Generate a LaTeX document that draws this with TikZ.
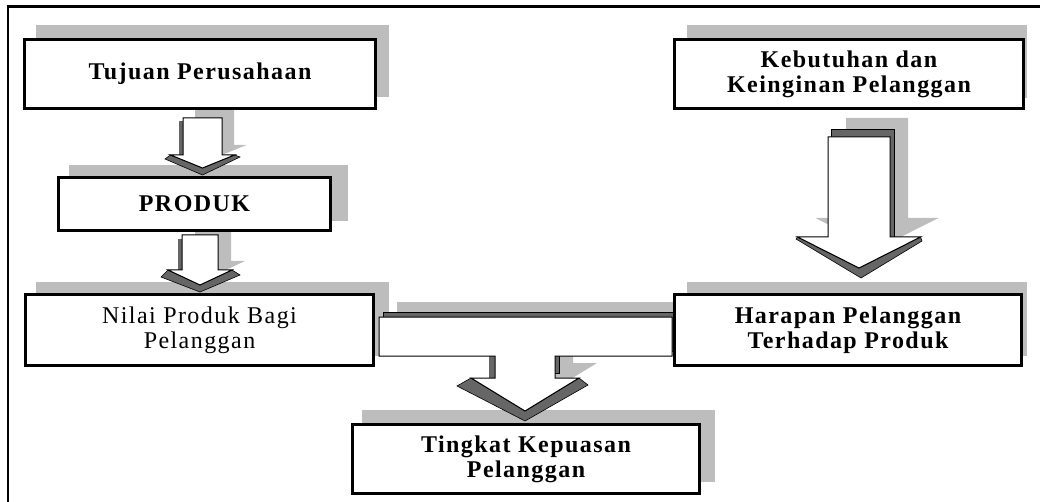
\documentclass[tikz,border=0pt]{standalone}
\usepackage{fontspec}
\setmainfont{Liberation Serif}[LetterSpace=6]
\definecolor{shd}{gray}{0.74}
\definecolor{drk}{gray}{0.40}
\newcommand{\dnarrow}[6]{({#1-#3},#2) -- ({#1+#3},#2) -- ({#1+#3},#5) -- ({#1+#4},#5) -- (#1,#6) -- ({#1-#4},#5) -- ({#1-#3},#5) -- cycle}
\begin{document}
\begin{tikzpicture}[x=1pt,y=-1pt,
  box/.style={draw,line width=2.8pt,fill=white,inner sep=0pt,align=center,font=\fontsize{24}{25}\selectfont\bfseries},
  plain/.style={font=\fontsize{24}{25}\selectfont},
  shadow/.style={fill=shd},
  face/.style={fill=white,draw=black,line width=1pt},
  band/.style={fill=drk,draw=black,line width=0.6pt},
  frame/.style={draw=black}]
\useasboundingbox (0,0) rectangle (1040,502);
% frame
\draw[frame,line width=3pt] (6.5,7) -- (1040,7);
\draw[frame,line width=2pt] (8,7) -- (8,502);
% box shadows
\fill[shadow] (36,25) rectangle (389,97);
\fill[shadow] (69,165) rectangle (348,221);
\fill[shadow] (36,282) rectangle (389,356);
\fill[shadow] (687,25) rectangle (1027,98);
\fill[shadow] (687,282) rectangle (1027,356);
\fill[shadow] (362,410) rectangle (715,482);
% arrow 1: Tujuan -> PRODUK
\fill[shadow,shift={(12,-10)}] \dnarrow{202.5}{118}{19.5}{32}{155}{168};
\fill[drk] (179,121) rectangle (203,155);
\draw[band] (170.5,155) -- (202.5,168) -- (234.5,155) -- (240,157) -- (202.5,175) -- (165,159) -- cycle;
\draw[face] \dnarrow{202.5}{118}{19.5}{32}{155}{168};
% arrow 2: PRODUK -> Nilai
\fill[shadow,shift={(13,-9)}] \dnarrow{200}{235}{18}{32}{270}{285};
\fill[drk] (178,239) rectangle (200,270);
\draw[band] (168,270) -- (200,285) -- (232,270) -- (240,275) -- (200,292) -- (161,277) -- cycle;
\draw[face] \dnarrow{200}{235}{18}{32}{270}{285};
% arrow 3: Kebutuhan -> Harapan
\fill[shadow,shift={(18,-19)}] \dnarrow{859}{137}{31}{61.5}{237}{268};
\draw[band] (831,129) rectangle (894,237);
\draw[band] (797.5,237) -- (859,268) -- (920.5,237) -- (922,241) -- (861,278) -- (796,239) -- cycle;
\draw[face] \dnarrow{859}{137}{31}{61.5}{237}{268};
% arrow 4: merge -> Tingkat
\fill[shadow,shift={(18,-15)}] (379,317) -- (672,317) -- (672,356) -- (555,356) -- (555,378) -- (579,378) -- (525,411) -- (471,378) -- (495,378) -- (495,356) -- (379,356) -- cycle;
\draw[band,shift={(4,-5)}] (379,317) -- (672,317) -- (672,356) -- (555,356) -- (555,378) -- (495,378) -- (495,356) -- (379,356) -- cycle;
\fill[drk] (489,356) rectangle (496,378);
\draw[band] (471,378) -- (525,411) -- (579,378) -- (588,385) -- (525,421) -- (457,386) -- cycle;
\draw[face] (379,317) -- (672,317) -- (672,356) -- (555,356) -- (555,378) -- (579,378) -- (525,411) -- (471,378) -- (495,378) -- (495,356) -- (379,356) -- cycle;
% boxes
\node[box,minimum width=351pt,minimum height=69pt] (tujuan) at (200,74) {Tujuan Perusahaan};
\node[box,minimum width=272pt,minimum height=53pt] (produk) at (194.5,204) {PRODUK};
\node[box,plain,minimum width=348pt,minimum height=71pt] (nilai) at (199.5,330) {Nilai Produk Bagi\\Pelanggan};
\node[box,minimum width=349pt,minimum height=69pt] (kebutuhan) at (849,74) {Kebutuhan dan\\Keinginan Pelanggan};
\node[box,minimum width=347pt,minimum height=71pt] (harapan) at (848,330) {Harapan Pelanggan\\Terhadap Produk};
\node[box,minimum width=347pt,minimum height=69pt] (tingkat) at (526,459) {Tingkat Kepuasan\\Pelanggan};
\end{tikzpicture}
\end{document}
